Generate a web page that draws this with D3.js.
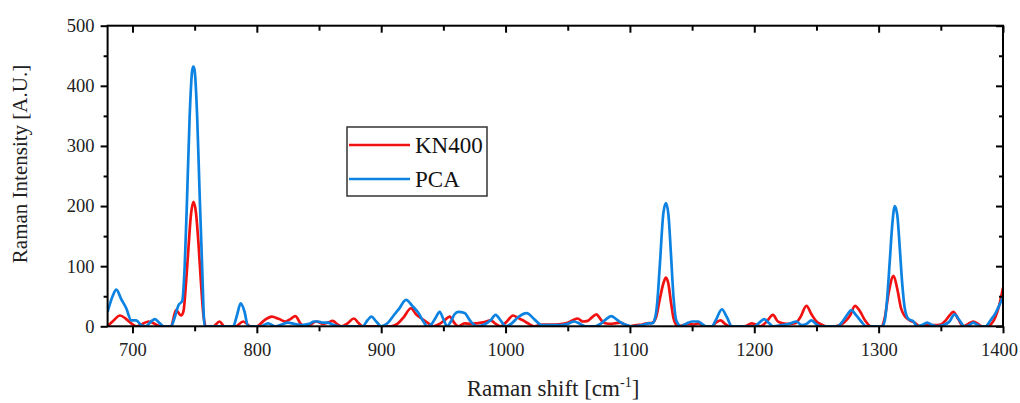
<!DOCTYPE html>
<html><head><meta charset="utf-8">
<script src="https://cdn.jsdelivr.net/npm/d3@7"></script>
<style>html,body{margin:0;padding:0;background:#fff;} svg{display:block;}</style>
</head><body>
<svg id="chart" width="1020" height="403"></svg>
<script>
const seriesNames = ["KN400", "PCA"];
const seriesColors = ["#f21111", "#0c82e2"];

const kn400Shift = [680,684,690,695,699,703,708,713,718,722,731,735,739,741,743,745,747,749,751,753,755,757,759,765,770,774,783,789,795,800,806,812,818,823,827,831,835,838,843,848,853,857,861,865,868,873,878,882,885,908,913,918,924,928,933,938,942,947,951,955,959,962,967,972,977,983,988,992,996,1001,1006,1010,1014,1018,1023,1030,1040,1046,1050,1054,1058,1062,1066,1069,1073,1077,1080,1085,1088,1092,1096,1100,1105,1110,1114,1118,1121,1124,1127,1129,1131,1133,1135,1137,1139,1143,1147,1151,1155,1160,1166,1169,1173,1176,1180,1192,1198,1205,1210,1215,1219,1223,1228,1233,1237,1242,1246,1250,1254,1258,1265,1272,1277,1281,1285,1289,1294,1302,1305,1308,1312,1315,1318,1321,1325,1329,1333,1338,1345,1350,1354,1357,1360,1364,1368,1372,1376,1380,1383,1388,1391,1394,1397,1400];
const kn400Intensity = [0,8,18,12,5,0,4,8,4,0,0,27,18,25,70,130,185,207,190,140,75,20,0,0,8,0,0,8,0,0,10,16,12,8,12,17,5,0,3,8,4,6,9,3,0,5,13,5,0,0,4,15,30,20,12,5,0,4,10,16,5,0,5,4,5,7,10,4,0,8,18,14,10,5,0,3,3,4,6,10,13,8,9,14,20,10,5,4,5,6,3,0,2,3,5,6,15,45,72,81,70,40,14,3,0,2,4,3,5,0,0,6,10,5,0,0,5,0,8,19,8,5,4,5,15,34,20,8,3,0,0,6,18,34,25,10,0,0,15,55,84,62,30,17,10,6,0,2,2,3,10,18,24,12,0,4,8,4,0,0,5,16,35,64];

const pcaShift = [680,684,687,691,695,699,703,707,711,713,718,722,725,731,734,737,740,742,744,746,748,749,750,752,754,756,758,781,784,787,790,793,803,809,815,820,825,830,836,842,846,849,853,857,861,867,885,889,892,896,900,905,910,914,920,925,930,934,937,941,944,947,950,953,956,959,962,967,972,977,983,988,992,996,1000,1005,1010,1017,1023,1029,1035,1045,1050,1055,1060,1064,1072,1077,1081,1085,1089,1093,1097,1101,1110,1115,1118,1120,1122,1124,1127,1129,1131,1133,1135,1137,1139,1141,1145,1150,1155,1158,1161,1166,1169,1174,1178,1182,1200,1204,1208,1212,1215,1222,1228,1234,1238,1242,1246,1250,1253,1267,1271,1275,1278,1282,1286,1290,1303,1305,1307,1309,1311,1313,1315,1317,1319,1321,1324,1328,1331,1335,1339,1343,1347,1352,1357,1361,1365,1369,1373,1376,1379,1382,1386,1390,1394,1397,1400];
const pcaIntensity = [24,50,61,45,30,10,10,2,0,4,12,5,0,0,15,35,42,100,220,350,425,432,425,350,220,100,0,0,18,38,25,0,0,5,0,3,6,4,2,4,8,8,6,6,3,0,0,10,16,8,0,5,18,28,44,34,22,8,0,5,15,24,12,0,8,20,24,22,8,0,3,10,19,10,0,5,15,22,12,2,2,2,4,8,4,0,0,5,12,17,12,6,2,0,2,5,5,12,40,100,190,205,185,120,50,12,3,0,4,8,8,4,0,0,10,28,15,0,0,6,12,5,0,2,4,8,2,4,10,3,0,0,8,20,27,18,8,0,0,10,50,110,170,200,185,130,70,30,12,8,0,2,6,2,0,2,8,20,10,0,2,6,3,0,0,10,22,35,49];

const xMajorTicks = [700,800,900,1000,1100,1200,1300,1400];
const xMinorTicks = [750,850,950,1050,1150,1250,1350];
const yMajorTicks = [0,100,200,300,400,500];
const yMinorTicks = [50,150,250,350,450];

const svg = d3.select("#chart");
const L = 107.6, R = 1003, T = 25.7, B = 326.3;
const x = d3.scaleLinear().domain([680,1400]).range([L,R]);
const y = d3.scaleLinear().domain([0,500]).range([B,T]);
const font = "'Liberation Serif','DejaVu Serif',serif";

svg.append("defs").append("clipPath").attr("id","clip")
  .append("rect").attr("x",L).attr("y",T-2).attr("width",R-L).attr("height",B-T+2);

const series = [
  {name: seriesNames[0], color: seriesColors[0], xs: kn400Shift, ys: kn400Intensity},
  {name: seriesNames[1], color: seriesColors[1], xs: pcaShift, ys: pcaIntensity}
];
const line = d3.line().x(d=>x(d[0])).y(d=>y(d[1])).curve(d3.curveMonotoneX);
const g = svg.append("g").attr("clip-path","url(#clip)");
series.forEach(s=>{
  g.append("path").datum(s.xs.map((v,i)=>[v,s.ys[i]]))
    .attr("d",line).attr("fill","none").attr("stroke",s.color)
    .attr("stroke-width",2.7).attr("stroke-linejoin","round");
});

function styleAxis(sel){
  sel.select(".domain").remove();
  sel.selectAll(".tick line").attr("stroke","#000").attr("stroke-width",2);
  sel.selectAll("text").attr("font-family",font).attr("font-size",18.5).attr("fill","#222");
}
// bottom
const bottomAxis = svg.append("g").attr("transform",`translate(0,${B})`)
  .call(d3.axisBottom(x).tickValues(xMajorTicks).tickSize(7).tickPadding(10).tickFormat(d3.format("d")))
  .call(styleAxis);
bottomAxis.selectAll(".tick text").filter(d=>d===1400).attr("dx",-4);
svg.append("g").attr("transform",`translate(0,${B})`)
  .call(d3.axisBottom(x).tickValues(xMinorTicks).tickSize(5).tickFormat(""))
  .call(styleAxis);
// left
svg.append("g").attr("transform",`translate(${L},0)`)
  .call(d3.axisLeft(y).tickValues(yMajorTicks).tickSize(7).tickPadding(6).tickFormat(d3.format("d")))
  .call(styleAxis);
svg.append("g").attr("transform",`translate(${L},0)`)
  .call(d3.axisLeft(y).tickValues(yMinorTicks).tickSize(4).tickFormat(""))
  .call(styleAxis);
// top (inward)
svg.append("g").attr("transform",`translate(0,${T})`)
  .call(d3.axisBottom(x).tickValues(xMajorTicks).tickSize(7).tickFormat(""))
  .call(styleAxis);
svg.append("g").attr("transform",`translate(0,${T})`)
  .call(d3.axisBottom(x).tickValues(xMinorTicks).tickSize(5).tickFormat(""))
  .call(styleAxis);
// right (inward)
svg.append("g").attr("transform",`translate(${R},0)`)
  .call(d3.axisLeft(y).tickValues(yMajorTicks).tickSize(7).tickFormat(""))
  .call(styleAxis);
svg.append("g").attr("transform",`translate(${R},0)`)
  .call(d3.axisLeft(y).tickValues(yMinorTicks).tickSize(4).tickFormat(""))
  .call(styleAxis);

// frame
svg.append("rect").attr("x",L).attr("y",T).attr("width",R-L).attr("height",B-T)
  .attr("fill","none").attr("stroke","#000").attr("stroke-width",2);

// axis titles
svg.append("text").attr("transform",`translate(27,164) rotate(-90)`)
  .attr("text-anchor","middle").attr("font-family",font).attr("font-size",21).attr("fill","#222")
  .text("Raman Intensity [A.U.]");
const xt = svg.append("text").attr("x",553).attr("y",396).attr("text-anchor","middle")
  .attr("font-family",font).attr("font-size",23).attr("fill","#222");
xt.append("tspan").text("Raman shift [cm");
xt.append("tspan").attr("font-size",14).attr("dy",-9).text("-1");
xt.append("tspan").attr("dy",9).text("]");

// legend
const lg = svg.append("g");
lg.append("rect").attr("x",347).attr("y",127).attr("width",140).attr("height",69)
  .attr("fill","#fff").attr("stroke","#333").attr("stroke-width",1.5);
series.forEach((s,i)=>{
  const ly = 145 + i*34;
  lg.append("line").attr("x1",349).attr("x2",410).attr("y1",ly).attr("y2",ly)
    .attr("stroke",s.color).attr("stroke-width",2.6);
  lg.append("text").attr("x",415).attr("y",ly+8).attr("font-family",font)
    .attr("font-size",23).attr("fill","#111").text(s.name);
});
</script>
</body></html>
